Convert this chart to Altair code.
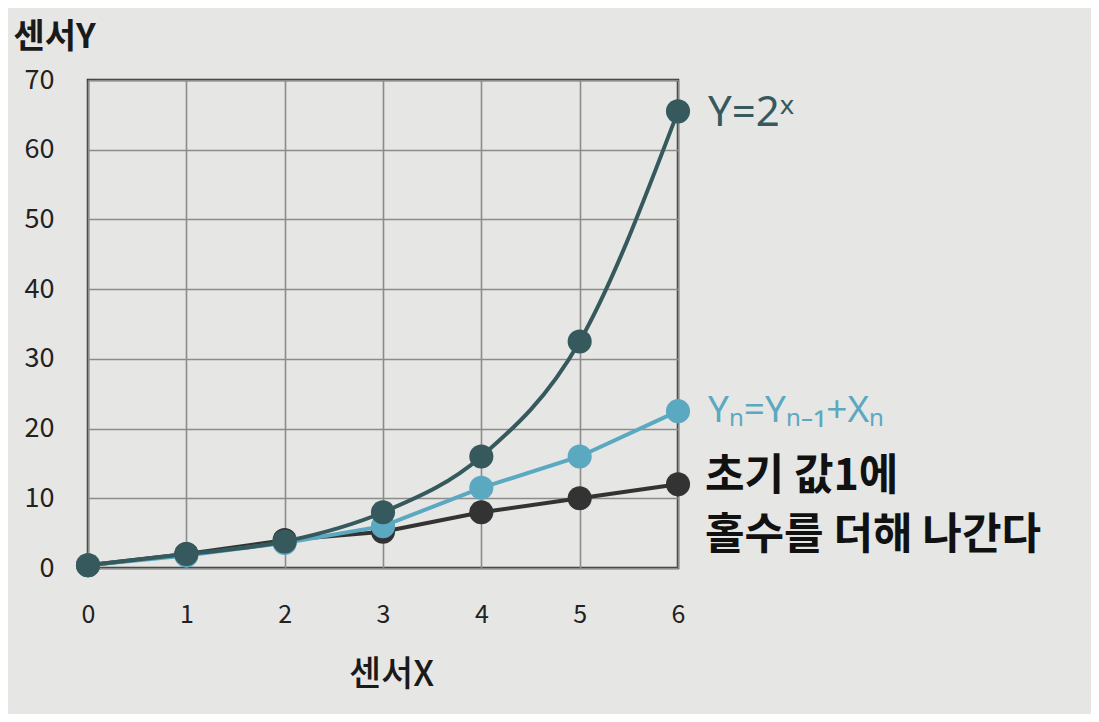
import altair as alt
import pandas as pd

x_vals = [0, 1, 2, 3, 4, 5, 6]
pow2 = [0.4, 2.0, 3.8, 8.0, 16.0, 32.5, 65.5]
recur = [0.4, 1.8, 3.6, 6.0, 11.5, 16.0, 22.5]
odd = [0.4, 2.0, 4.0, 5.2, 8.0, 10.0, 12.0]

series_vals = [pow2, recur, odd]
colors = ["#35595c", "#5ba8c1", "#333333"]
interps = ["monotone", "linear", "linear"]

label_texts = ["Y=2ˣ", "Yₙ=Yₙ₋₁+Xₙ", "초기 값1에\n홀수를 더해 나간다"]

FONT = "Noto Sans CJK KR"
LATIN = "Noto Sans"

x_scale = alt.Scale(domain=[0, 6], nice=False, zero=False)
y_scale = alt.Scale(domain=[0, 70], nice=False)

x_axis = alt.Axis(title="센서X", values=x_vals, format="d", grid=True, domain=False, ticks=False,
                  labelFlush=False, labelPadding=34, labelFontSize=25, labelColor="#222", labelFont=FONT,
                  titleFont=FONT, titleFontSize=35, titleFontWeight=500, titleColor="#1a1a1a",
                  titleAngle=0, titleX=303, titleY=106, titleAlign="center", titleBaseline="middle",
                  gridColor="#8c8c8c", gridWidth=1.6)
y_axis = alt.Axis(title="센서Y", values=[0, 10, 20, 30, 40, 50, 60, 70], format="d", grid=True,
                  domain=False, ticks=False, labelFlush=False, labelPadding=34, labelFontSize=27,
                  labelColor="#222", labelFont=FONT,
                  titleFont=FONT, titleFontSize=34, titleFontWeight="bold", titleColor="#1a1a1a",
                  titleAngle=0, titleX=-75, titleY=-43, titleAlign="left", titleBaseline="middle",
                  gridColor="#8c8c8c", gridWidth=1.6)

layers = []
# draw order: odd (bottom), recur, pow2 (top)
for idx in [2, 1, 0]:
    df = pd.DataFrame({"x": x_vals, "y": series_vals[idx]})
    base = alt.Chart(df)
    line = base.mark_line(color=colors[idx], strokeWidth=4, interpolate=interps[idx]).encode(
        x=alt.X("x:Q", scale=x_scale, axis=x_axis),
        y=alt.Y("y:Q", scale=y_scale, axis=y_axis),
    )
    pts = base.mark_circle(color=colors[idx], size=580, opacity=1).encode(
        x=alt.X("x:Q", scale=x_scale),
        y=alt.Y("y:Q", scale=y_scale),
    )
    layers += [line, pts]

label_styles = [
    dict(dx=30, dy=2, fontSize=42, fontWeight="normal", color=colors[0], font=LATIN),
    dict(dx=30, dy=0, fontSize=37, fontWeight="normal", color=colors[1], font=LATIN),
    dict(dx=27, dy=-7, fontSize=43, fontWeight="bold", color="#111111", lineHeight=59, font=FONT),
]
for idx in range(3):
    ldf = pd.DataFrame({"x": [x_vals[-1]], "y": [series_vals[idx][-1]], "t": [label_texts[idx]]})
    st = label_styles[idx]
    layers.append(
        alt.Chart(ldf).mark_text(align="left", baseline="middle", lineBreak="\n", **st).encode(
            x=alt.X("x:Q", scale=x_scale),
            y=alt.Y("y:Q", scale=y_scale),
            text="t:N",
        )
    )

chart = alt.layer(*layers).properties(
    width=590, height=488,
    autosize=alt.AutoSizeParams(type="none"),
    padding={"left": 80, "top": 72, "right": 413, "bottom": 146},
    background="#e6e6e4",
).configure_view(stroke="#333333", strokeWidth=2.5)

chart.save("out.html", embed_options={"renderer": "svg", "actions": False})
